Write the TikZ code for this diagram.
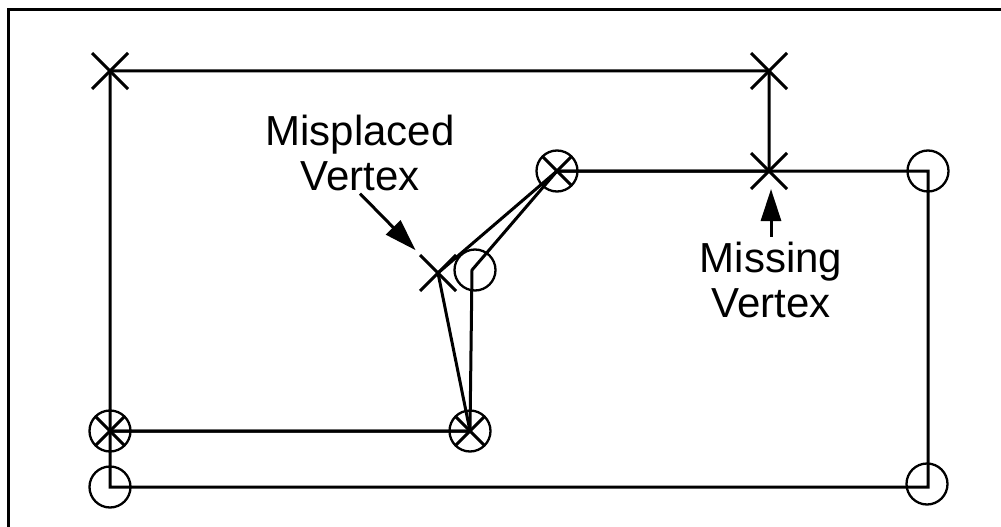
\documentclass[tikz,border=0pt]{standalone}
\usepackage{fontspec}
\setmainfont{Liberation Sans}
\usetikzlibrary{arrows.meta,shapes.misc}
\begin{document}
\begin{tikzpicture}[x=1pt,y=-1pt,
  edge/.style={line width=3pt},
  xmark/.style={cross out,draw,line width=3pt,minimum size=36pt,inner sep=0pt,outer sep=0pt},
  omark/.style={circle,draw,line width=2.3pt,minimum size=41pt,inner sep=0pt},
  oxmark/.style={omark,path picture={
    \draw[line width=3pt]
      (path picture bounding box.north west) -- (path picture bounding box.south east)
      (path picture bounding box.north east) -- (path picture bounding box.south west);}},
  note/.style={font=\fontsize{42}{45}\selectfont,align=center,inner sep=0pt},
  pointer/.style={line width=3pt,-{Triangle[length=32pt,width=20pt]}}
]
\useasboundingbox (0,0) rectangle (1001,527);
\fill[white] (0,0) rectangle (1001,527);
% frame (top and left edges)
\draw[line width=2.5pt] (1001,9.5) -- (8.5,9.5) -- (8.5,527);

% vertices
\coordinate (A) at (110,71);
\coordinate (B) at (769,71);
\coordinate (C) at (769,171);
\coordinate (D) at (557,171);
\coordinate (E) at (438,273);
\coordinate (F) at (470,431);
\coordinate (G) at (110,431);
\coordinate (H) at (472,270);
\coordinate (I) at (928,171);
\coordinate (J) at (928,487);
\coordinate (K) at (110,487);

% polygon with cross vertices
\draw[edge] (A) -- (B) -- (C) -- (D) -- (E) -- (F) -- (G) -- cycle;
% polygon with circle vertices
\draw[edge] (D) -- (I) -- (J) -- (K) -- (G) -- (F) -- (H) -- (D);

% vertex markers
\node[xmark] (mA) at (A) {};
\node[xmark] (mB) at (B) {};
\node[xmark] (mC) at (C) {};
\node[xmark] (mE) at (E) {};
\node[oxmark] (mD) at (D) {};
\node[oxmark] (mF) at (F) {};
\node[oxmark] (mG) at (G) {};
\node[omark,xshift=3pt] (mH) at (H) {};
\node[omark] (mI) at (I) {};
\node[omark,xshift=-1pt,yshift=3pt] (mJ) at (J) {};
\node[omark] (mK) at (K) {};

% labels
\node[note] (mis) at (360,152.5) {Misplaced\\Vertex};
\node[note] (miss) at (771,280) {Missing\\Vertex};

\draw[pointer,shorten >=32pt] ([yshift=-3pt]mis.south) -- (E);
\draw[pointer,shorten >=18pt] ([yshift=5pt]miss.north) -- (miss.north |- C);
\end{tikzpicture}
\end{document}
